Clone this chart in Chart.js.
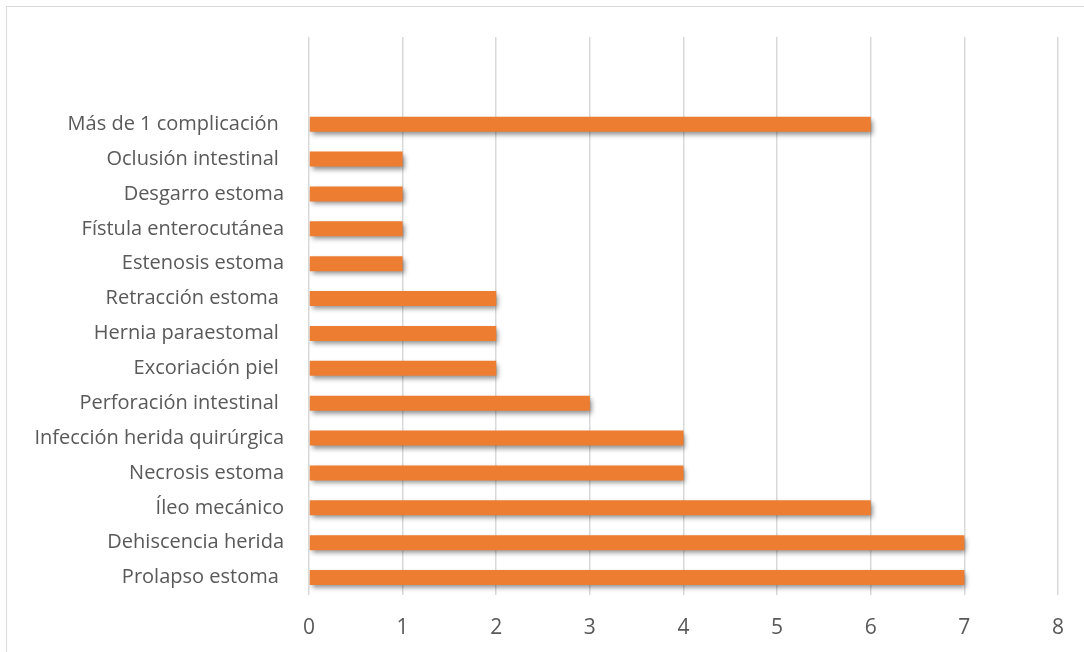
<!DOCTYPE html>
<html>
<head>
<meta charset="utf-8">
<script src="https://cdn.jsdelivr.net/npm/chart.js@4/dist/chart.umd.min.js"></script>
<style>
  html, body { margin: 0; padding: 0; background: #fff; overflow: hidden; }
  #frame { position: absolute; left: 6px; top: 6px; width: 1090px; height: 660px; border: 1px solid #d9d9d9; }
  #wrap { position: absolute; left: 0; top: 0; width: 1084px; height: 652px; }
</style>
</head>
<body>
<div id="frame"></div>
<div id="wrap"><canvas id="chart"></canvas></div>
<script>
// categorías (de arriba hacia abajo; las dos primeras vacías dejan el hueco superior)
const categories = [
  '', '',
  'Más de 1 complicación ',
  'Oclusión intestinal ',
  'Desgarro estoma',
  'Fístula enterocutánea',
  'Estenosis estoma',
  'Retracción estoma ',
  'Hernia paraestomal ',
  'Excoriación piel ',
  'Perforación intestinal ',
  'Infección herida quirúrgica',
  'Necrosis estoma',
  'Íleo mecánico',
  'Dehiscencia herida',
  'Prolapso estoma '
];
// número de casos
const values = [null, null, 6, 1, 1, 1, 1, 2, 2, 2, 3, 4, 4, 6, 7, 7];
// ticks del eje X
const xTicks = [0, 1, 2, 3, 4, 5, 6, 7, 8];

// sombra de las barras
const shadowPlugin = {
  id: 'barShadow',
  beforeDatasetsDraw(chart) {
    const ctx = chart.ctx;
    ctx.save();
    ctx.shadowColor = 'rgba(0,0,0,0.45)';
    ctx.shadowBlur = 5;
    ctx.shadowOffsetX = 2;
    ctx.shadowOffsetY = 3;
  },
  afterDatasetsDraw(chart) {
    chart.ctx.restore();
  }
};

const ctx = document.getElementById('chart').getContext('2d');
new Chart(ctx, {
  type: 'bar',
  data: {
    labels: categories,
    datasets: [{
      data: values,
      backgroundColor: (c) => {
        const el = c.element;
        if (!el || !el.height) return '#ED7D31';
        const g = c.chart.ctx.createLinearGradient(0, el.y - el.height / 2, 0, el.y + el.height / 2);
        g.addColorStop(0, '#F28A45');
        g.addColorStop(0.5, '#EE7C30');
        g.addColorStop(1, '#E8722A');
        return g;
      },
      borderWidth: 0,
      categoryPercentage: 1,
      barPercentage: 0.43
    }]
  },
  options: {
    indexAxis: 'y',
    responsive: true,
    maintainAspectRatio: false,
    animation: false,
    layout: { padding: { top: 35, right: 26, left: 0, bottom: 0 } },
    plugins: {
      legend: { display: false },
      tooltip: { enabled: false }
    },
    scales: {
      x: {
        min: 0,
        max: 8,
        afterBuildTicks: (s) => { s.ticks = xTicks.map(v => ({ value: v })); },
        afterFit: (s) => { s.height = 57; },
        grid: { color: '#d9d9d9', lineWidth: 1.5, drawTicks: false },
        border: { display: false },
        ticks: {
          padding: 20,
          color: '#595959',
          font: { family: 'Open Sans', size: 21 }
        }
      },
      y: {
        afterFit: (s) => { s.width = 309; },
        grid: { display: false, drawTicks: false },
        border: { display: false },
        ticks: {
          padding: 25,
          color: '#595959',
          autoSkip: false,
          font: { family: 'Open Sans', size: 20 }
        }
      }
    }
  },
  plugins: [shadowPlugin]
});
</script>
</body>
</html>
